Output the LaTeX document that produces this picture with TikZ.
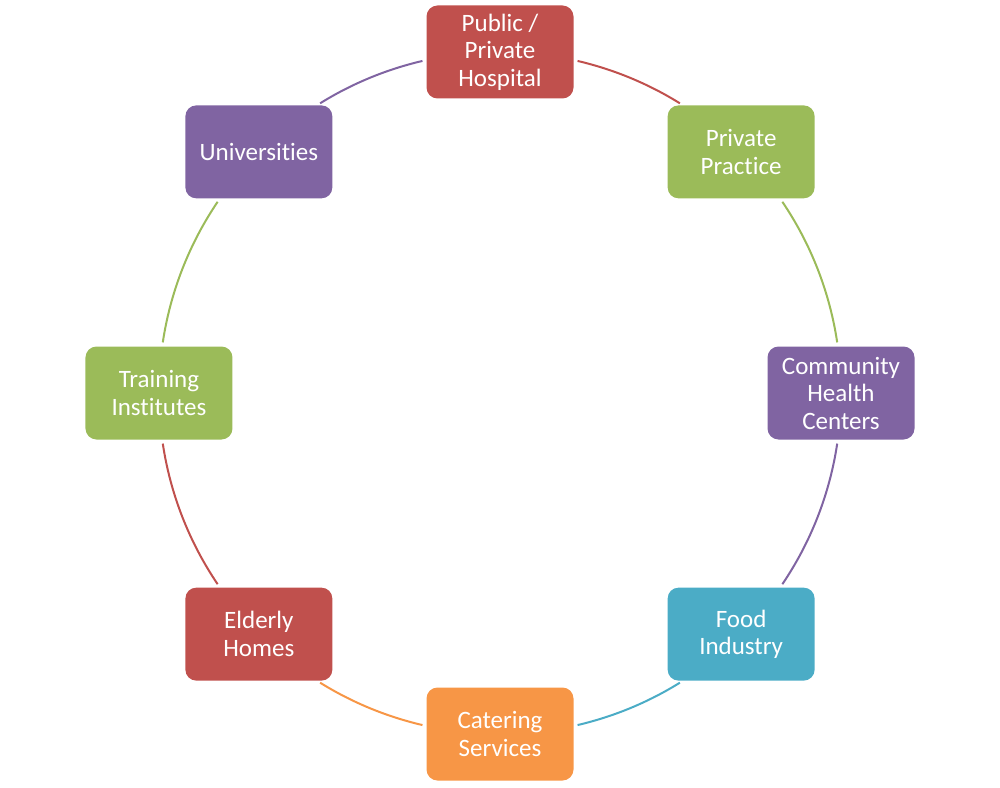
\documentclass[tikz,border=0pt]{standalone}
\usepackage{fontspec}
\setmainfont{Carlito}[Ligatures=NoCommon]
\definecolor{cred}{HTML}{C0504D}
\definecolor{cgreen}{HTML}{9BBB59}
\definecolor{cpurple}{HTML}{8064A2}
\definecolor{cteal}{HTML}{4BACC6}
\definecolor{corange}{HTML}{F79646}
\begin{document}
\begin{tikzpicture}[x=1pt,y=1pt,
  box/.style={rounded corners=11pt, minimum width=147pt, minimum height=93pt, inner sep=0pt,
    text=white, align=center, font=\fontsize{25}{27.5}\selectfont},
  link/.style={line width=2pt}]
\useasboundingbox (-500pt,-394pt) rectangle (500pt,393pt);
\coordinate (c) at (0,0);
\node[box, fill=cred]    (pub)  at (90:341pt)   {Public /\\Private\\Hospital};
\node[box, fill=cgreen]  (pp)   at (45:341pt)   {Private\\Practice};
\node[box, fill=cpurple] (chc)  at (0:341pt)    {Community\\Health\\Centers};
\node[box, fill=cteal]   (food) at (-45:341pt)  {Food\\Industry};
\node[box, fill=corange] (cat)  at (-90:341pt)  {Catering\\Services};
\node[box, fill=cred]    (eld)  at (-135:341pt) {Elderly\\Homes};
\node[box, fill=cgreen]  (tra)  at (180:341pt)  {Training\\Institutes};
\node[box, fill=cpurple] (uni)  at (135:341pt)  {Universities};
% arcs from node to node around the centre c
\draw[link, cred]    ([shift={(76.85:341pt)}]c)  arc[start angle=76.85,  end angle=58.16,  radius=341pt];
\draw[link, cgreen]  ([shift={(34.1:341pt)}]c)   arc[start angle=34.1,   end angle=8.54,   radius=341pt];
\draw[link, cpurple] ([shift={(-8.54:341pt)}]c)  arc[start angle=-8.54,  end angle=-34.1,  radius=341pt];
\draw[link, cteal]   ([shift={(-58.16:341pt)}]c) arc[start angle=-58.16, end angle=-76.85, radius=341pt];
\draw[link, corange] ([shift={(-103.15:341pt)}]c) arc[start angle=-103.15, end angle=-121.84, radius=341pt];
\draw[link, cred]    ([shift={(-145.9:341pt)}]c) arc[start angle=-145.9, end angle=-171.46, radius=341pt];
\draw[link, cgreen]  ([shift={(171.46:341pt)}]c) arc[start angle=171.46, end angle=145.9,  radius=341pt];
\draw[link, cpurple] ([shift={(121.84:341pt)}]c) arc[start angle=121.84, end angle=103.15, radius=341pt];
\end{tikzpicture}
\end{document}
